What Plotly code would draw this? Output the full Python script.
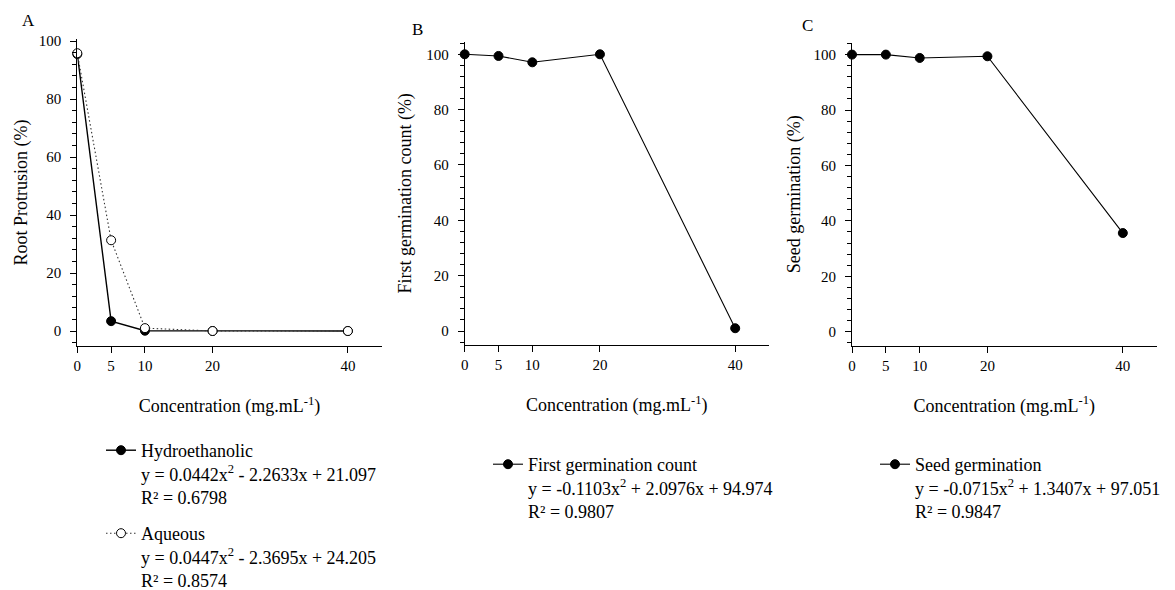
import plotly.graph_objects as go

conc = [0, 5, 10, 20, 40]
conc_labels = ["0", "5", "10", "20", "40"]

root_hydro = [95.5, 3.4, 0.1, 0.0, 0.0]
root_aqueous = [95.8, 31.3, 1.0, 0.0, 0.0]
first_germ = [100.0, 99.4, 97.1, 100.0, 1.0]
seed_germ = [100.0, 100.0, 98.8, 99.4, 35.6]

name_hydro = "Hydroethanolic<br>y = 0.0442x<sup>2</sup> - 2.2633x + 21.097<br>R² = 0.6798"
name_aq = "Aqueous<br>y = 0.0447x<sup>2</sup> - 2.3695x + 24.205<br>R² = 0.8574"
name_first = "First germination count<br>y = -0.1103x<sup>2</sup> + 2.0976x + 94.974<br>R² = 0.9807"
name_seed = "Seed germination<br>y = -0.0715x<sup>2</sup> + 1.3407x + 97.051<br>R² = 0.9847"

FONT = "Liberation Serif, Times New Roman, serif"
W, H = 1175, 590

fig = go.Figure()

filled = dict(symbol="circle", size=9, color="black", line=dict(color="black", width=1))
openm = dict(symbol="circle", size=9, color="white", line=dict(color="black", width=1))

fig.add_trace(go.Scatter(x=conc, y=root_hydro, mode="lines+markers", name=name_hydro,
                         line=dict(color="black", width=1.4), marker=filled,
                         xaxis="x", yaxis="y", cliponaxis=False, legend="legend",
                         showlegend=True))
fig.add_trace(go.Scatter(x=conc, y=root_aqueous, mode="lines+markers", name=name_aq,
                         line=dict(color="#333333", width=1.1, dash="1.5px,2.5px"), marker=openm,
                         xaxis="x", yaxis="y", cliponaxis=False, legend="legend4",
                         showlegend=True))
fig.add_trace(go.Scatter(x=conc, y=first_germ, mode="lines+markers", name=name_first,
                         line=dict(color="black", width=1.1), marker=filled,
                         xaxis="x2", yaxis="y2", cliponaxis=False, legend="legend2",
                         showlegend=True))
fig.add_trace(go.Scatter(x=conc, y=seed_germ, mode="lines+markers", name=name_seed,
                         line=dict(color="black", width=1.1), marker=filled,
                         xaxis="x3", yaxis="y3", cliponaxis=False, legend="legend3",
                         showlegend=True))

def px_x(p):
    return p / W

def px_y(p):
    return 1 - p / H

tickfont = dict(family=FONT, size=15, color="black")
titlefont = dict(family=FONT, size=18, color="black")

def xax(x0, x1, anchor):
    return dict(domain=[px_x(x0), px_x(x1)], range=[0, 45], anchor=anchor,
                tickmode="array", tickvals=conc, ticktext=conc_labels,
                ticks="outside", ticklen=6, tickcolor="black", tickwidth=1,
                showline=True, linecolor="black", linewidth=1,
                showgrid=False, zeroline=False, tickfont=tickfont,
                title=dict(text="Concentration (mg.mL<sup>-1</sup>)", font=titlefont, standoff=26))

def yax(y_top, y_bot, rng, anchor, title, standoff):
    return dict(domain=[px_y(y_bot), px_y(y_top)], range=rng, anchor=anchor,
                tickmode="linear", tick0=0, dtick=20,
                ticks="outside", ticklen=6, tickcolor="black", tickwidth=1,
                ticklabelstandoff=6,
                minor=dict(tick0=0, dtick=4, ticks="outside", ticklen=4, tickcolor="black"),
                showline=True, linecolor="black", linewidth=1,
                showgrid=False, zeroline=False, tickfont=tickfont,
                title=dict(text=title, font=titlefont, standoff=standoff))

legend_common = dict(font=dict(family=FONT, size=18, color="black"),
                     bgcolor="rgba(0,0,0,0)", borderwidth=0, valign="top",
                     xanchor="left", yanchor="top", visible=True)

letter_font = dict(family=FONT, size=17, color="black")

fig.update_layout(
    width=W, height=H, margin=dict(l=0, r=0, t=0, b=0, autoexpand=False),
    paper_bgcolor="white", plot_bgcolor="white", showlegend=True,
    font=dict(family=FONT, color="black", size=15),
    xaxis=xax(77.3, 381.7, "y"),
    yaxis=yax(39, 346, [-5.17, 100.7], "x", "Root Protrusion (%)", 6),
    xaxis2=xax(464.7, 769, "y2"),
    yaxis2=yax(41.7, 345, [-5.06, 104.55], "x2", "First germination count (%)", 9),
    xaxis3=xax(852, 1156.7, "y3"),
    yaxis3=yax(42.7, 345.7, [-5.05, 104.3], "x3", "Seed germination (%)", 8),
    legend=dict(x=px_x(101), y=px_y(432), **legend_common),
    legend4=dict(x=px_x(101), y=px_y(515), **legend_common),
    legend2=dict(x=px_x(488), y=px_y(446), **legend_common),
    legend3=dict(x=px_x(875), y=px_y(446), **legend_common),
    annotations=[
        dict(text="A", x=px_x(28), y=px_y(20), xref="paper", yref="paper", showarrow=False,
             xanchor="center", yanchor="middle", font=letter_font),
        dict(text="B", x=px_x(417), y=px_y(30), xref="paper", yref="paper", showarrow=False,
             xanchor="center", yanchor="middle", font=letter_font),
        dict(text="C", x=px_x(807), y=px_y(26), xref="paper", yref="paper", showarrow=False,
             xanchor="center", yanchor="middle", font=letter_font),
    ],
)

fig.write_html("out.html")
